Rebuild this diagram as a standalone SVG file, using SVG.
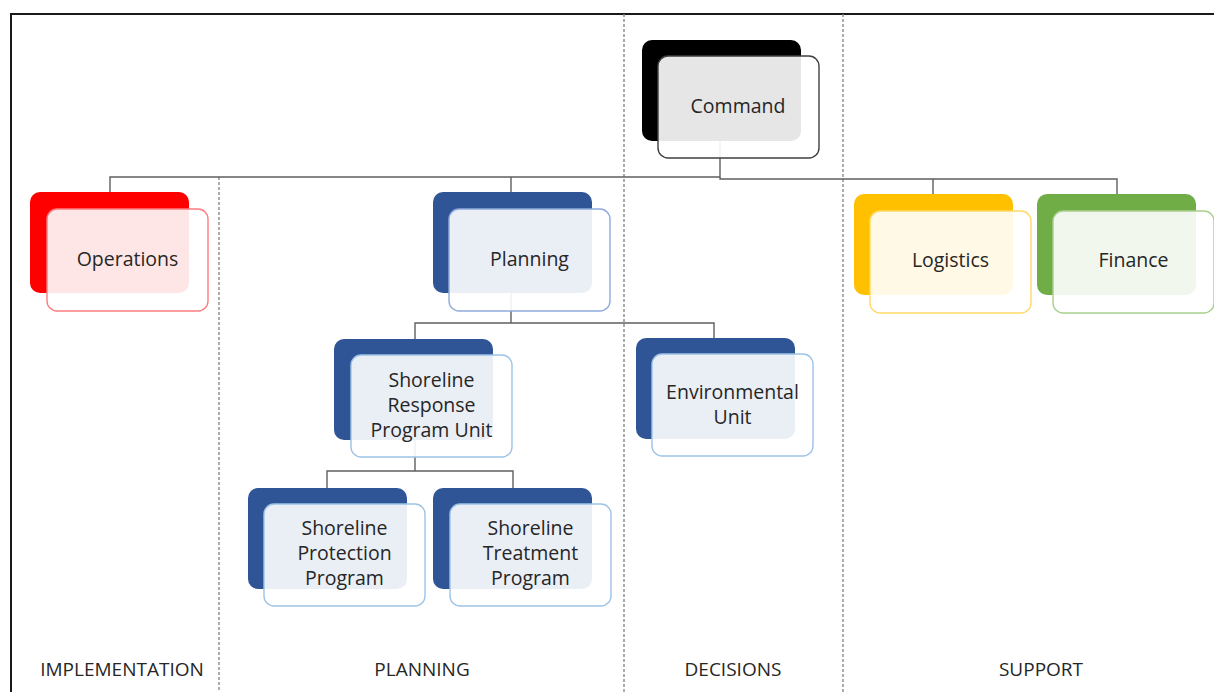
<svg xmlns="http://www.w3.org/2000/svg" width="1214" height="692" viewBox="0 0 1214 692">
<style>
.bg{fill:#ffffff}
.frame{fill:none;stroke:#1a1a1a;stroke-width:2}
.div{stroke:#808080;stroke-width:1.3;stroke-dasharray:3 2;fill:none}
.con{fill:none;stroke:#5f5f5f;stroke-width:1.4}
.back{stroke:none}
.front{fill:#ffffff;fill-opacity:0.9;stroke-width:1.4}
.t{font-family:"Open Sans","Liberation Sans",sans-serif;font-size:19.5px;fill:#262626;text-anchor:middle}
.lbl{font-family:"Open Sans","Liberation Sans",sans-serif;font-size:19px;fill:#262626;text-anchor:middle}
</style>
<rect class="bg" x="0" y="0" width="1214" height="692"/>
<path class="frame" d="M11,692 V14 H1214"/>
<g id="dividers">
<line class="div" x1="219" y1="177" x2="219" y2="692"/>
<line class="div" x1="624" y1="14" x2="624" y2="692"/>
<line class="div" x1="843" y1="14" x2="843" y2="692"/>
</g>
<g id="connectors">
<path class="con" d="M720,140 V177 H110 V200"/>
<path class="con" d="M511,177 V200"/>
<path class="con" d="M720,177 V179 H1117 V200"/>
<path class="con" d="M933,179 V200"/>
<path class="con" d="M511,260 V323"/>
<path class="con" d="M415,345 V323 H714 V345"/>
<path class="con" d="M415,420 V471"/>
<path class="con" d="M327,495 V471 H513 V495"/>
</g>
<g id="command">
<rect class="back" x="642" y="40" width="159" height="101" rx="10" fill="#000000"/>
<rect class="front" x="658" y="56" width="161" height="102" rx="10" stroke="#404040"/>
<text class="t" x="738" y="113">Command</text>
</g>
<g id="operations">
<rect class="back" x="30" y="192" width="159" height="101" rx="10" fill="#ff0000"/>
<rect class="front" x="47" y="209" width="161" height="102" rx="10" stroke="#ff7c80"/>
<text class="t" x="127.5" y="266">Operations</text>
</g>
<g id="planning">
<rect class="back" x="433" y="192" width="159" height="101" rx="10" fill="#2f5597"/>
<rect class="front" x="449" y="209" width="161" height="102" rx="10" stroke="#8faadc"/>
<text class="t" x="529.5" y="266">Planning</text>
</g>
<g id="logistics">
<rect class="back" x="854" y="194" width="159" height="101" rx="10" fill="#ffc000"/>
<rect class="front" x="870" y="211" width="161" height="102" rx="10" stroke="#ffd966"/>
<text class="t" x="950.5" y="267">Logistics</text>
</g>
<g id="finance">
<rect class="back" x="1037" y="194" width="159" height="101" rx="10" fill="#70ad47"/>
<rect class="front" x="1053" y="211" width="161" height="102" rx="10" stroke="#a9d18e"/>
<text class="t" x="1133.5" y="267">Finance</text>
</g>
<g id="shoreline-response">
<rect class="back" x="334" y="339" width="159" height="101" rx="10" fill="#2f5597"/>
<rect class="front" x="351" y="355" width="161" height="102" rx="10" stroke="#9dc3e6"/>
<text class="t" x="431.5" y="387">Shoreline</text>
<text class="t" x="431.5" y="412">Response</text>
<text class="t" x="431.5" y="437">Program Unit</text>
</g>
<g id="environmental">
<rect class="back" x="636" y="338" width="159" height="101" rx="10" fill="#2f5597"/>
<rect class="front" x="652" y="354" width="161" height="102" rx="10" stroke="#9dc3e6"/>
<text class="t" x="732.5" y="399">Environmental</text>
<text class="t" x="732.5" y="424">Unit</text>
</g>
<g id="shoreline-protection">
<rect class="back" x="248" y="488" width="159" height="101" rx="10" fill="#2f5597"/>
<rect class="front" x="264" y="504" width="161" height="102" rx="10" stroke="#9dc3e6"/>
<text class="t" x="344.5" y="535">Shoreline</text>
<text class="t" x="344.5" y="560">Protection</text>
<text class="t" x="344.5" y="585">Program</text>
</g>
<g id="shoreline-treatment">
<rect class="back" x="433" y="488" width="159" height="101" rx="10" fill="#2f5597"/>
<rect class="front" x="450" y="504" width="161" height="102" rx="10" stroke="#9dc3e6"/>
<text class="t" x="530.5" y="535">Shoreline</text>
<text class="t" x="530.5" y="560">Treatment</text>
<text class="t" x="530.5" y="585">Program</text>
</g>
<g id="labels">
<text class="lbl" x="122" y="676">IMPLEMENTATION</text>
<text class="lbl" x="422" y="676">PLANNING</text>
<text class="lbl" x="733" y="676">DECISIONS</text>
<text class="lbl" x="1041" y="676">SUPPORT</text>
</g>
</svg>
